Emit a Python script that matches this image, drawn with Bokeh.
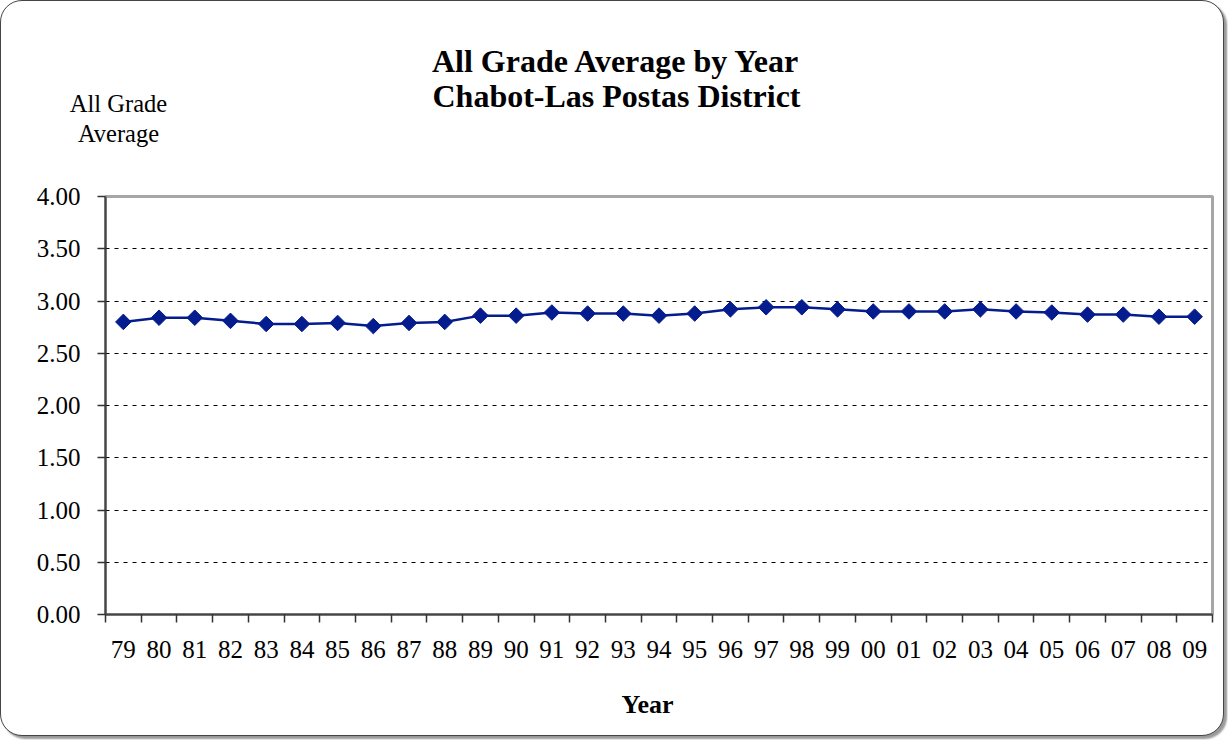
from bokeh.plotting import figure
from bokeh.models import Range1d, FixedTicker, NumeralTickFormatter, Label
from bokeh.layouts import column
from bokeh.embed import file_html
from bokeh.resources import INLINE

years = ["79", "80", "81", "82", "83", "84", "85", "86", "87", "88", "89",
         "90", "91", "92", "93", "94", "95", "96", "97", "98", "99",
         "00", "01", "02", "03", "04", "05", "06", "07", "08", "09"]
gpa = [2.80, 2.84, 2.84, 2.81, 2.78, 2.78, 2.79, 2.76, 2.79, 2.80, 2.86,
       2.86, 2.89, 2.88, 2.88, 2.86, 2.88, 2.92, 2.94, 2.94, 2.92,
       2.90, 2.90, 2.90, 2.92, 2.90, 2.89, 2.87, 2.87, 2.85, 2.85]
y_ticks = [0.0, 0.5, 1.0, 1.5, 2.0, 2.5, 3.0, 3.5, 4.0]
title_lines = ["All Grade Average by Year", "Chabot-Las Postas District"]
y_title_lines = ["All Grade", "Average"]
x_title = "Year"

SERIF = "Liberation Serif"
NAVY = "#041C8E"
W = 1222

n = len(years)
xs = [i + 0.5 for i in range(n)]


def blank(h):
    f = figure(width=W, height=h, output_backend="svg", toolbar_location=None,
               x_axis_location=None, y_axis_location=None,
               x_range=Range1d(0, 1), y_range=Range1d(0, 1),
               min_border=0, min_border_left=0, min_border_right=0,
               min_border_top=0, min_border_bottom=0)
    f.frame_align = False
    f.grid.visible = False
    f.outline_line_color = None
    f.border_fill_alpha = 0
    f.background_fill_alpha = 0
    return f


def lab(f, text, x, y, size, bold=False):
    f.add_layout(Label(x=x, y=y, x_units="screen", y_units="screen", text=text,
                       text_font=SERIF, text_font_size=size,
                       text_font_style="bold" if bold else "normal",
                       text_align="center", text_baseline="alphabetic",
                       text_color="black"))


# header: titles and the y-axis caption
header = blank(176)
lab(header, title_lines[0], 615, 116.5, "32px", True)
lab(header, title_lines[1], 615, 81.5, "32px", True)
lab(header, y_title_lines[0], 117, 74, "24.5px")
lab(header, y_title_lines[1], 117, 44, "24.5px")

# main chart
p = figure(width=W, height=493, output_backend="svg", toolbar_location=None,
           x_range=Range1d(0, n), y_range=Range1d(0, 4),
           min_border_left=104, min_border_right=11, min_border_top=19, min_border_bottom=56)
p.border_fill_alpha = 0
p.background_fill_color = "white"
p.outline_line_color = "#a6a6a6"
p.outline_line_width = 3

p.xaxis.ticker = FixedTicker(ticks=xs, minor_ticks=list(range(n + 1)))
p.xaxis.major_label_overrides = {x: y for x, y in zip(xs, years)}
p.xaxis.major_tick_out = 0
p.xaxis.major_tick_in = 0
p.xaxis.minor_tick_out = 8
p.xaxis.minor_tick_in = 0
p.xaxis.minor_tick_line_color = "#333333"
p.xaxis.minor_tick_line_width = 1.5
p.xaxis.major_label_standoff = 18
p.xaxis.major_label_text_font = SERIF
p.xaxis.major_label_text_font_size = "25px"
p.xaxis.major_label_text_color = "black"
p.xaxis.axis_line_color = "#444444"
p.xaxis.axis_line_width = 2

p.yaxis.ticker = FixedTicker(ticks=y_ticks)
p.yaxis.formatter = NumeralTickFormatter(format="0.00")
p.yaxis.major_tick_out = 8
p.yaxis.major_tick_in = 0
p.yaxis.minor_tick_out = 0
p.yaxis.minor_tick_in = 0
p.yaxis.major_tick_line_color = "#333333"
p.yaxis.major_tick_line_width = 1.5
p.yaxis.major_label_standoff = 17
p.yaxis.major_label_text_font = SERIF
p.yaxis.major_label_text_font_size = "25px"
p.yaxis.major_label_text_color = "black"
p.yaxis.axis_line_color = "#444444"
p.yaxis.axis_line_width = 2

p.xgrid.grid_line_color = None
p.ygrid.grid_line_color = "black"
p.ygrid.grid_line_dash = "4 5"
p.ygrid.grid_line_width = 1

p.line(xs, gpa, line_color=NAVY, line_width=2.5)
p.scatter(xs, gpa, marker="square", size=11, angle=0.785398,
          fill_color=NAVY, line_color=NAVY)

# footer: x-axis caption
footer = blank(65)
lab(footer, x_title, 646, 31.5, "26px", True)

layout = column(header, p, footer, spacing=0)
layout.styles = {"border": "1.5px solid #444", "border-radius": "22px",
                 "box-shadow": "3px 3px 2px #999", "background": "white"}

open("out.html", "w").write(file_html(layout, INLINE))
